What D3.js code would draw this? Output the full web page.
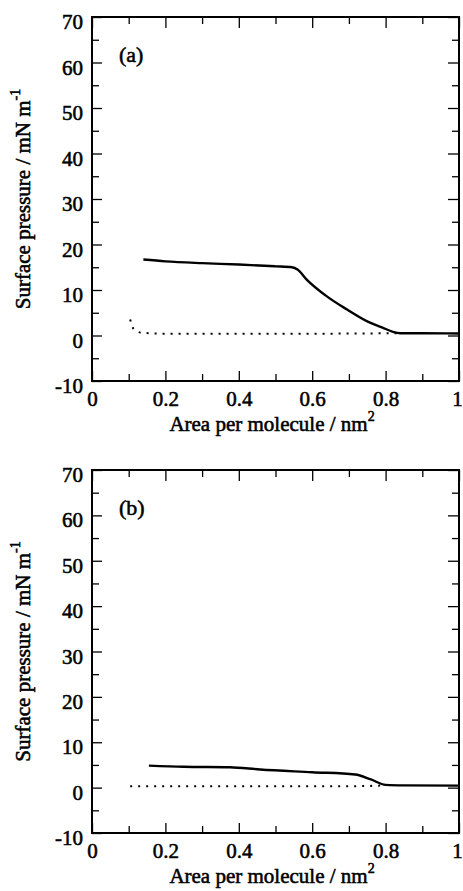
<!DOCTYPE html>
<html><head><meta charset="utf-8">
<script src="https://cdn.jsdelivr.net/npm/d3@7"></script>
<style>
html,body{margin:0;padding:0;background:#fff;}
svg{display:block;}
svg text{font-family:"Liberation Serif","DejaVu Serif","Times New Roman",serif !important;fill:#000;stroke:#000;stroke-width:0.55px;}
</style></head>
<body><svg id="chart" width="463" height="891"></svg>
<script>
// ---- data ----
const xTicks = [0, 0.2, 0.4, 0.6, 0.8, 1];
const xTickLabels = ["0", "0.2", "0.4", "0.6", "0.8", "1"];
const xMinorTicks = [0.1, 0.3, 0.5, 0.7, 0.9];
const yTicks = [-10, 0, 10, 20, 30, 40, 50, 60, 70];
const yTickLabels = ["-10", "0", "10", "20", "30", "40", "50", "60", "70"];
const yMinorTicks = [-5, 5, 15, 25, 35, 45, 55, 65];
const panelLabels = ["(a)", "(b)"];

const areaA_solid = [0.14, 0.2, 0.3, 0.4, 0.5, 0.545, 0.56, 0.585, 0.64, 0.695, 0.75, 0.79, 0.82, 0.84, 0.9, 1.0];
const piA_solid   = [16.7, 16.3, 15.9, 15.6, 15.2, 15.0, 14.5, 12.3, 8.6, 5.7, 3.1, 1.8, 0.8, 0.5, 0.5, 0.45];
const areaA_dot   = [0.104, 0.113, 0.135, 0.2, 0.4, 0.6, 0.83];
const piA_dot     = [3.5, 1.5, 0.6, 0.4, 0.4, 0.4, 0.5];

const areaB_solid = [0.155, 0.25, 0.376, 0.458, 0.6, 0.717, 0.76, 0.8, 0.85, 1.0];
const piB_solid   = [4.85, 4.6, 4.5, 4.0, 3.4, 2.9, 1.8, 0.6, 0.5, 0.45];
const areaB_dot   = [0.104, 0.3, 0.5, 0.7, 0.8];
const piB_dot     = [0.3, 0.3, 0.3, 0.3, 0.5];

const panels = [
  {label: panelLabels[0], top: 17, bottom: 381, solid: [areaA_solid, piA_solid], dot: [areaA_dot, piA_dot]},
  {label: panelLabels[1], top: 470, bottom: 833, solid: [areaB_solid, piB_solid], dot: [areaB_dot, piB_dot]}
];

const svg = d3.select("#chart");
const left = 92, right = 459;
const FONT = '"Liberation Serif","DejaVu Serif",serif';
const fmtX = d => xTickLabels[xTicks.indexOf(d)];
const fmtY = d => yTickLabels[yTicks.indexOf(d)];

panels.forEach(p => {
  const x = d3.scaleLinear().domain([0, 1]).range([left, right]);
  const y = d3.scaleLinear().domain([-10, 70]).range([p.bottom, p.top]);
  const g = svg.append("g");

  // minor ticks (all four sides)
  g.append("g").attr("transform", `translate(0,${p.bottom})`)
    .call(d3.axisBottom(x).tickValues(xMinorTicks).tickSize(-7).tickFormat(""));
  g.append("g").attr("transform", `translate(0,${p.top})`)
    .call(d3.axisTop(x).tickValues(xMinorTicks).tickSize(-7).tickFormat(""));
  g.append("g").attr("transform", `translate(${left},0)`)
    .call(d3.axisLeft(y).tickValues(yMinorTicks).tickSize(-7).tickFormat(""));
  g.append("g").attr("transform", `translate(${right},0)`)
    .call(d3.axisRight(y).tickValues(yMinorTicks).tickSize(-7).tickFormat(""));
  // major ticks
  g.append("g").attr("class", "xa").attr("transform", `translate(0,${p.bottom})`)
    .call(d3.axisBottom(x).tickValues(xTicks).tickSize(-10).tickPadding(10).tickFormat(fmtX));
  g.append("g").attr("transform", `translate(0,${p.top})`)
    .call(d3.axisTop(x).tickValues(xTicks).tickSize(-11).tickFormat(""));
  g.append("g").attr("class", "ya").attr("transform", `translate(${left},0)`)
    .call(d3.axisLeft(y).tickValues(yTicks).tickSize(-10).tickPadding(9).tickFormat(fmtY));
  g.append("g").attr("transform", `translate(${right},0)`)
    .call(d3.axisRight(y).tickValues(yTicks).tickSize(-11).tickFormat(""));

  g.selectAll("g").attr("font-family", FONT);
  g.selectAll(".domain").remove();
  g.selectAll(".tick line").attr("stroke", "#000").attr("stroke-width", 1.3);
  g.selectAll(".tick text").attr("font-size", 21).attr("font-family", FONT).attr("fill", "#000");
  g.selectAll(".ya .tick text").attr("dy", "0.55em");
  g.selectAll(".xa .tick text").filter(d => d === 1).attr("dx", -2);

  // frame
  g.append("rect").attr("x", left).attr("y", p.top).attr("width", right - left).attr("height", p.bottom - p.top)
    .attr("fill", "none").attr("stroke", "#000").attr("stroke-width", 2);

  // curves
  const line = d3.line().x(d => x(d[0])).y(d => y(d[1])).curve(d3.curveMonotoneX);
  const solidPts = p.solid[0].map((a, i) => [a, p.solid[1][i]]);
  const dotPts = p.dot[0].map((a, i) => [a, p.dot[1][i]]);
  g.append("path").datum(dotPts).attr("d", line).attr("fill", "none").attr("stroke", "#000")
    .attr("stroke-width", 2).attr("stroke-dasharray", "2,6");
  g.append("path").datum(solidPts).attr("d", line).attr("fill", "none").attr("stroke", "#000")
    .attr("stroke-width", 2.4).attr("stroke-linejoin", "round");

  // panel label
  g.append("text").attr("x", 119).attr("y", p.top + 45).attr("font-family", FONT).attr("font-size", 22).text(p.label);

  // x title
  const xt = g.append("text").attr("x", 272).attr("y", p.bottom + 50).attr("text-anchor", "middle")
    .attr("font-family", FONT).attr("font-size", 21);
  xt.append("tspan").text("Area per molecule / nm");
  xt.append("tspan").attr("dy", "-10").attr("font-size", 14).text("2");

  // y title
  const cy = (p.top + p.bottom) / 2;
  const yt = g.append("text").attr("transform", `translate(30,${cy}) rotate(-90)`).attr("text-anchor", "middle")
    .attr("font-family", FONT).attr("font-size", 21);
  yt.append("tspan").text("Surface pressure / mN m");
  yt.append("tspan").attr("dy", "-10").attr("font-size", 14).text("-1");
});
</script></body></html>
